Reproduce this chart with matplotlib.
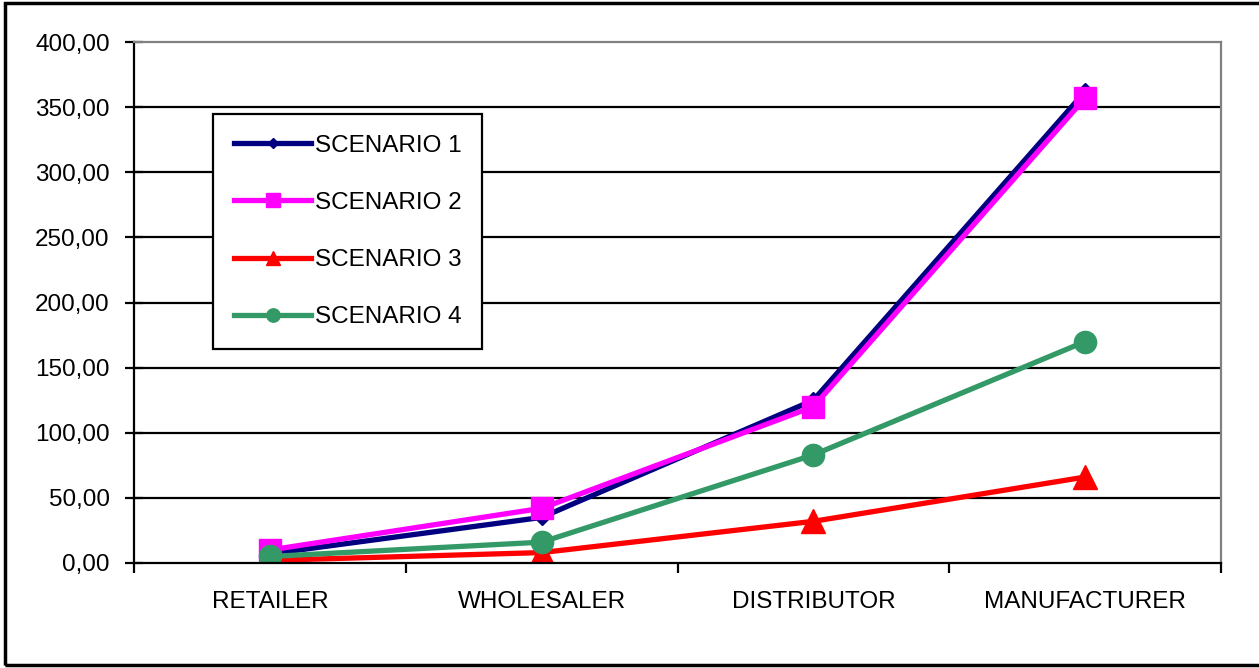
import matplotlib.pyplot as plt
from matplotlib.patches import Rectangle

plt.rcParams['font.family'] = ['Liberation Sans', 'DejaVu Sans']

categories = ["RETAILER", "WHOLESALER", "DISTRIBUTOR", "MANUFACTURER"]
scenario1 = [7, 35, 125, 362]
scenario2 = [10, 42, 120, 357]
scenario3 = [2, 8, 32, 66]
scenario4 = [5, 16, 83, 170]
yticks = [0, 50, 100, 150, 200, 250, 300, 350, 400]

fig = plt.figure(figsize=(12.59, 6.68), dpi=100)
ax = fig.add_axes([134 / 1259, 1 - 563 / 668, (1221 - 134) / 1259, (563 - 42) / 668])

# outer frame of the chart (no right edge visible)
fig.patches.append(Rectangle((5 / 1259, 3 / 668), 1.1, 662 / 668, transform=fig.transFigure,
                             fill=False, edgecolor="black", linewidth=2.5))

x = range(len(categories))
ax.plot(x, scenario1, color="#000080", lw=3.8, marker="D", ms=8, label="SCENARIO 1")
ax.plot(x, scenario2, color="#FF00FF", lw=3.8, marker="s", ms=16, label="SCENARIO 2")
ax.plot(x, scenario3, color="#FF0000", lw=3.8, marker="^", ms=17, label="SCENARIO 3")
ax.plot(x, scenario4, color="#339966", lw=3.8, marker="o", ms=16, label="SCENARIO 4")

ax.set_xlim(-0.5, len(categories) - 0.5)
ax.set_ylim(0, 400)
ax.set_yticks(yticks)
ax.set_yticklabels([f"{v:.2f}".replace(".", ",") for v in yticks], fontsize=17.5)
for v in yticks[1:-1]:
    ax.axhline(v, color="black", lw=1.6, zorder=0)

ax.set_xticks(list(x))
ax.set_xticklabels(categories, fontsize=17.5)
ax.set_xticks([i - 0.5 for i in range(len(categories) + 1)], minor=True)
ax.tick_params(axis="x", which="major", length=0, pad=20)
ax.tick_params(axis="x", which="minor", length=7, width=1.6, direction="out")
ax.tick_params(axis="y", length=13, width=1.6, direction="inout", pad=11)

ax.spines["left"].set_linewidth(1.6)
ax.spines["bottom"].set_linewidth(1.6)
ax.spines["top"].set_color("gray")
ax.spines["right"].set_color("gray")
ax.spines["top"].set_linewidth(1.6)
ax.spines["right"].set_linewidth(1.6)

leg = ax.legend(loc="upper left", bbox_to_anchor=(0.0727, 0.862), borderaxespad=0,
                fontsize=17.5, fancybox=False, edgecolor="black", framealpha=1,
                labelspacing=1.45, handlelength=3.2, handletextpad=0.15,
                borderpad=0.85, markerscale=0.6)
leg.get_frame().set_linewidth(1.6)

fig.savefig("out.png", dpi=100)
